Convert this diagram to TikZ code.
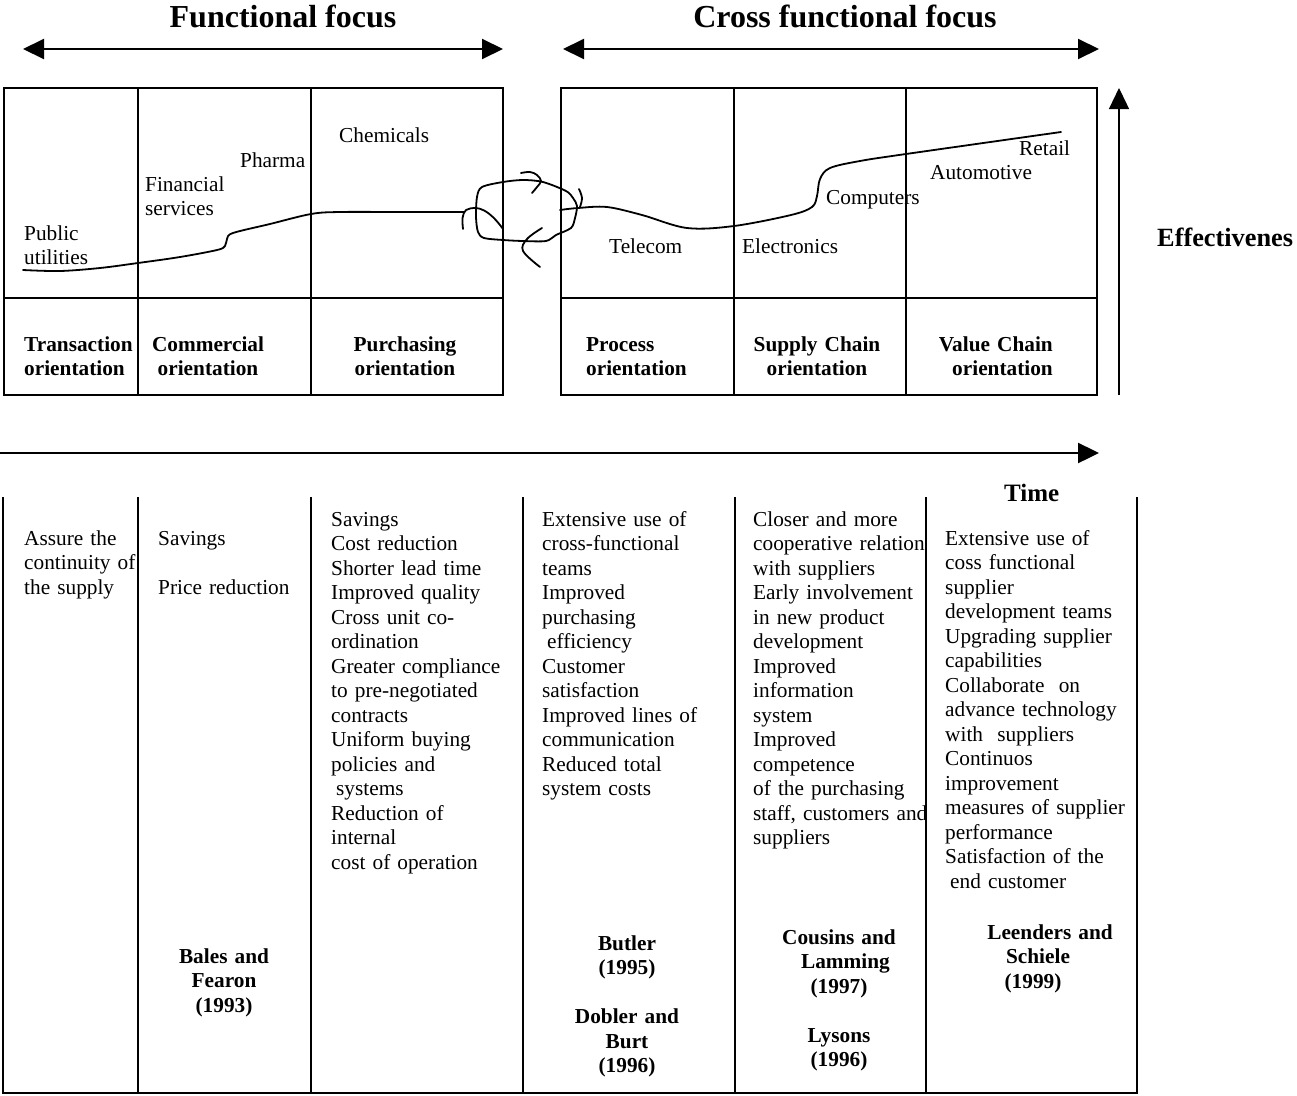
\documentclass[tikz,border=0pt]{standalone}
\usepackage{fontspec}
\setmainfont{Liberation Serif}
\usetikzlibrary{arrows.meta}

\tikzset{
  frame/.style={line width=1.6pt},
  rule/.style={line width=1.8pt},
  sketch/.style={line width=1.8pt, line cap=round, line join=round},
  tip/.style={-{Triangle[length=21pt,width=20pt]}},
  twotips/.style={{Triangle[length=21pt,width=20pt]}-{Triangle[length=21pt,width=20pt]}},
  body/.style={font=\fontsize{21.3}{24.5}\selectfont, inner sep=0pt},
  bodyleft/.style={body, anchor=base west, align=left, text width=210pt},
  boldleft/.style={bodyleft, font=\fontsize{21.3}{24.5}\selectfont\bfseries},
  boldmid/.style={body, anchor=base, align=center, text width=200pt, font=\fontsize{21.3}{24.5}\selectfont\bfseries},
  title/.style={inner sep=0pt, anchor=base, font=\fontsize{32}{36}\selectfont\bfseries},
  axislabel/.style={inner sep=0pt, anchor=base west, font=\fontsize{25}{28}\selectfont\bfseries},
}

\begin{document}
\begin{tikzpicture}[x=1pt, y=-1pt]
\useasboundingbox (0,0) rectangle (1297,1095);

% headings and their range arrows
\node[title] (tfun) at (283,27) {Functional focus};
\node[title] (tcross) at (845,27) {Cross functional focus};
\coordinate (fa) at (23,49);  \coordinate (fb) at (503,49);
\coordinate (ca) at (563,49); \coordinate (cb) at (1099,49);
\draw[line width=2pt, twotips] (fa) -- (fb);
\draw[line width=2pt, twotips] (ca) -- (cb);

% orientation grid, functional half
\draw[frame] (4,88) rectangle (503,395);
\draw[frame] (138,88) -- (138,395);
\draw[frame] (311,88) -- (311,395);
\draw[frame] (4,298) -- (503,298);
% orientation grid, cross functional half
\draw[frame] (561,88) rectangle (1097,395);
\draw[frame] (734,88) -- (734,395);
\draw[frame] (906,88) -- (906,395);
\draw[frame] (561,298) -- (1097,298);

% industries along the maturity curve
\node[bodyleft] (pub) at (24,240) {Public\\utilities};
\node[bodyleft] (fin) at (145,191) {Financial\\services};
\node[bodyleft] (pha) at (240,167) {Pharma};
\node[bodyleft] (che) at (339,142) {Chemicals};
\node[bodyleft] (tel) at (609,253) {Telecom};
\node[bodyleft] (ele) at (742,253) {Electronics};
\node[bodyleft] (com) at (826,204) {Computers};
\node[bodyleft] (aut) at (930,179) {Automotive};
\node[bodyleft] (ret) at (1019,155) {Retail};

% maturity curve, left part
\draw[sketch] plot[smooth, tension=0.55] coordinates {
  (23,270) (60,271) (100,268) (138,263) (180,257) (217,250)
  (225,246) (227,239) (233,233) (270,224) (311,214) (340,212) (400,212) (464,212)};
\draw[sketch] (463,229) .. controls (462,220) and (462,214) .. (466,210)
  .. controls (478,204) and (490,211) .. (503,229);
% the tangle in the gap
\draw[sketch] plot[smooth cycle, tension=0.5] coordinates {
  (482,187) (503,182) (523,180) (543,182) (566,191) (573,198) (577,206)
  (575,218) (571,228) (556,235) (546,241) (523,241) (503,240) (484,238)
  (478,232) (476,217) (477,197)};
\draw[sketch] plot[smooth, tension=0.6] coordinates {
  (521,173) (530,172) (537,175) (541,181) (537,187) (532,193)};
\draw[sketch] plot[smooth, tension=0.6] coordinates {
  (542,228) (527,239) (523,251) (540,267)};
\draw[sketch] plot[smooth, tension=0.6] coordinates {
  (579,189) (582,198) (580,207)};
% maturity curve, right part
\draw[sketch] plot[smooth, tension=0.55] coordinates {
  (560,210) (578,208) (607,207) (642,215) (687,228) (734,226) (791,215)
  (812,207) (817,196) (820,179) (830,168) (860,161) (906,154) (1061,132)};

% orientation labels
\node[boldleft] (o1) at (24,351) {Transaction\\orientation};
\node[boldmid] (o2) at (208,351) {Commercial\\orientation};
\node[boldmid] (o3) at (405,351) {Purchasing\\orientation};
\node[boldleft] (o4) at (586,351) {Process\\orientation};
\node[boldmid] (o5) at (817,351) {Supply Chain\\orientation};
\node[body, anchor=base east, align=right, text width=150pt,
      font=\fontsize{21.3}{24.5}\selectfont\bfseries] (o6) at (1053,351)
      {Value Chain\\orientation};

% effectiveness axis
\coordinate (ea) at (1119,395); \coordinate (eb) at (1119,88);
\draw[line width=1.3pt, tip] (ea) -- (eb);
\node[axislabel, font=\fontsize{26.3}{30}\selectfont\bfseries] (eff) at (1157,246) {Effectivenes};

% time axis
\coordinate (ta) at (0,453); \coordinate (tb) at (1099,453);
\draw[line width=2.4pt, tip] (ta) -- (tb);
\node[axislabel] (time) at (1004,501) {Time};

% benefits table
\foreach \cx in {3,138,311,523,735,926,1137}
  \draw[rule] (\cx,497) -- (\cx,1093);
\draw[line width=2.6pt] (2,1093) -- (1138,1093);

\node[bodyleft] (b1) at (24,545) {Assure the\\continuity of\\the supply};
\node[bodyleft] (b2) at (158,545) {Savings\\[24.5pt]Price reduction};
\node[bodyleft] (b3) at (331,526) {Savings\\Cost reduction\\Shorter lead time\\Improved quality\\Cross unit co-\\ordination\\Greater compliance\\to pre-negotiated\\contracts\\Uniform buying\\policies and\\\hspace*{5pt}systems\\Reduction of\\internal\\cost of operation};
\node[bodyleft] (b4) at (542,526) {Extensive use of\\cross-functional\\teams\\Improved\\purchasing\\\hspace*{5pt}efficiency\\Customer\\satisfaction\\Improved lines of\\communication\\Reduced total\\system costs};
\node[bodyleft] (b5) at (753,526) {Closer and more\\cooperative relation\\with suppliers\\Early involvement\\in new product\\development\\Improved\\information\\system\\Improved\\competence\\of the purchasing\\staff, customers and\\suppliers};
\node[bodyleft] (b6) at (945,545) {Extensive use of\\coss functional\\supplier\\development teams\\Upgrading supplier\\capabilities\\Collaborate\ \ on\\advance technology\\with\ \ suppliers\\Continuos\\improvement\\measures of supplier\\performance\\Satisfaction of the\\\hspace*{5pt}end customer};

% references
\node[boldmid] (r2) at (224,963) {Bales and\\Fearon\\(1993)};
\node[boldmid] (r4) at (627,950) {Butler\\(1995)\\[24.5pt]Dobler and\\Burt\\(1996)};
\node[boldmid] (r5) at (839,944) {Cousins and\\\hspace*{13pt}Lamming\\(1997)\\[24.5pt]Lysons\\(1996)};
\node[boldmid] (r6) at (1050,939) {Leenders and\\Schiele\kern24pt\\(1999)\kern34pt};
\end{tikzpicture}
\end{document}
